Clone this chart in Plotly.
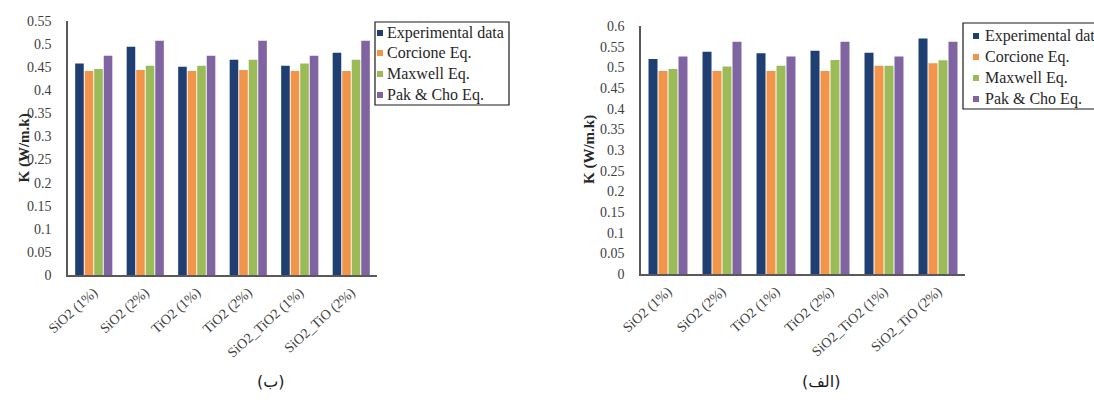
import plotly.graph_objects as go

# Thermal conductivity of nanofluids: measured values vs. three models
categories = ["SiO2 (1%)", "SiO2 (2%)", "TiO2 (1%)", "TiO2 (2%)", "SiO2_TiO2 (1%)", "SiO2_TiO (2%)"]
series_names = ["Experimental data", "Corcione Eq.", "Maxwell Eq.", "Pak & Cho Eq."]

# panel (ب)
exp_b = [0.458, 0.494, 0.451, 0.466, 0.453, 0.481]
cor_b = [0.442, 0.444, 0.442, 0.444, 0.442, 0.442]
max_b = [0.446, 0.453, 0.453, 0.466, 0.458, 0.466]
pak_b = [0.475, 0.507, 0.475, 0.507, 0.475, 0.507]

# panel (الف)
exp_a = [0.520, 0.538, 0.534, 0.540, 0.535, 0.570]
cor_a = [0.491, 0.491, 0.491, 0.491, 0.504, 0.510]
max_a = [0.496, 0.502, 0.504, 0.518, 0.504, 0.517]
pak_a = [0.526, 0.562, 0.526, 0.562, 0.526, 0.562]

yticks_b = [i * 0.05 for i in range(12)]
yticks_a = [i * 0.05 for i in range(13)]
panel_labels = ["(ب)", "(الف)"]

colors = ["#1f3f73", "#f0954a", "#9bbb59", "#8064a2"]

W, H = 1094, 405
SERIF = "Liberation Serif, Times New Roman, serif"


def px(x):
    return x / W


def py(y):
    return 1 - y / H


def fmt(v):
    return f"{v:.2f}".rstrip("0").rstrip(".")


fig = go.Figure()

for vals, name, col in zip([exp_b, cor_b, max_b, pak_b], series_names, colors):
    fig.add_trace(go.Bar(x=categories, y=vals, name=name, marker_color=col,
                         marker_line_width=0, xaxis="x", yaxis="y", showlegend=False))
for vals, name, col in zip([exp_a, cor_a, max_a, pak_a], series_names, colors):
    fig.add_trace(go.Bar(x=categories, y=vals, name=name, marker_color=col,
                         marker_line_width=0, xaxis="x2", yaxis="y2", showlegend=False))

axis_line = dict(showline=True, linecolor="#595959", linewidth=1.5, showgrid=False,
                 zeroline=False, ticks="", fixedrange=True)
ytickfont = dict(family=SERIF, size=14, color="#404040")
xtickfont = dict(family=SERIF, size=14, color="#404040")

fig.update_layout(
    width=W, height=H,
    margin=dict(l=0, r=0, t=0, b=0, autoexpand=False),
    paper_bgcolor="white", plot_bgcolor="white",
    barmode="group", bargap=0.26, bargroupgap=0.1,
    showlegend=False,
    xaxis=dict(domain=[px(68), px(377)], anchor="y", tickangle=-42,
               tickfont=xtickfont, ticklabelstandoff=2, **axis_line),
    yaxis=dict(domain=[py(275), py(21)], anchor="x", range=[0, 0.55],
               tickvals=yticks_b, ticktext=[fmt(v) for v in yticks_b],
               tickfont=ytickfont, ticklabelstandoff=12, **axis_line),
    xaxis2=dict(domain=[px(641), px(965)], anchor="y2", tickangle=-42,
                tickfont=xtickfont, ticklabelstandoff=2, **axis_line),
    yaxis2=dict(domain=[py(274), py(26)], anchor="x2", range=[0, 0.6],
                tickvals=yticks_a, ticktext=[fmt(v) for v in yticks_a],
                tickfont=ytickfont, ticklabelstandoff=12, **axis_line),
)

# y-axis titles
for xt, yt in [(14, 148), (589, 150)]:
    fig.add_annotation(xref="paper", yref="paper", x=px(xt), y=py(yt),
                       text="<b>K (W/m.k)</b>", textangle=-90, showarrow=False,
                       font=dict(family=SERIF, size=15, color="#262626"))

# boxed legends drawn next to each panel
legend_specs = [
    dict(box=(375, 22, 509, 105), mark_x=377, text_x=385, rows=[33, 53, 74, 95]),
    dict(box=(963, 23, 1130, 109), mark_x=973, text_x=983, rows=[36, 57, 78, 99]),
]
for spec in legend_specs:
    x0, y0, x1, y1 = spec["box"]
    fig.add_shape(type="rect", xref="paper", yref="paper",
                  x0=px(x0), y0=py(y1), x1=px(x1), y1=py(y0),
                  line=dict(color="#1a1a1a", width=1.2), fillcolor="white", layer="above")
    for name, col, ry in zip(series_names, colors, spec["rows"]):
        mx = spec["mark_x"]
        fig.add_shape(type="rect", xref="paper", yref="paper",
                      x0=px(mx), y0=py(ry + 3), x1=px(mx + 6), y1=py(ry - 3),
                      line_width=0, fillcolor=col, layer="above")
        fig.add_annotation(xref="paper", yref="paper", x=px(spec["text_x"]), y=py(ry),
                           xanchor="left", yanchor="middle", text=name, showarrow=False,
                           font=dict(family=SERIF, size=16, color="#262626"))

# panel captions
for lbl, cx in zip(panel_labels, [255, 842]):
    fig.add_annotation(xref="paper", yref="paper", x=px(cx), y=py(393),
                       text=lbl, showarrow=False,
                       font=dict(family="DejaVu Sans", size=16, color="#1a1a1a"))

fig.write_html("out.html")
